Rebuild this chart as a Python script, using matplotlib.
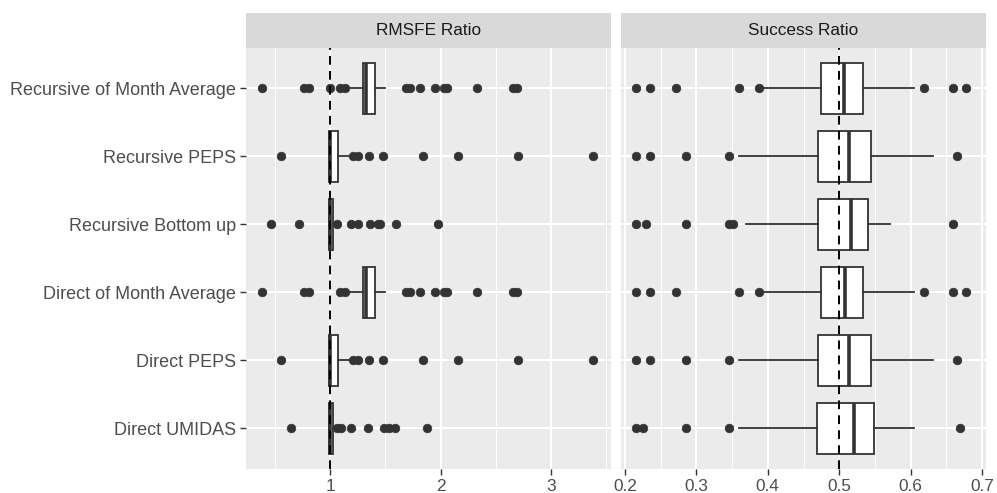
import matplotlib
matplotlib.use("Agg")
import matplotlib.pyplot as plt

plt.rcParams["font.family"] = ["Liberation Sans", "DejaVu Sans"]

# Forecasting methods, listed top to bottom
methods = [
    "Recursive of Month Average",
    "Recursive PEPS",
    "Recursive Bottom up",
    "Direct of Month Average",
    "Direct PEPS",
    "Direct UMIDAS",
]

# RMSFE ratio: whisker low, Q1, median, Q3, whisker high, outliers
rmsfe_whislo = [1.18, 0.99, 0.985, 1.18, 0.99, 0.985]
rmsfe_q1 = [1.30, 0.99, 0.99, 1.30, 0.99, 0.99]
rmsfe_med = [1.32, 1.00, 1.00, 1.32, 1.00, 1.00]
rmsfe_q3 = [1.41, 1.07, 1.025, 1.41, 1.07, 1.025]
rmsfe_whishi = [1.50, 1.19, 1.045, 1.50, 1.19, 1.05]
rmsfe_out = [
    [0.38, 0.76, 0.81, 1.00, 1.09, 1.13, 1.69, 1.72, 1.81, 1.95, 2.03, 2.06, 2.33, 2.66, 2.69],
    [0.55, 1.21, 1.25, 1.35, 1.48, 1.84, 2.16, 2.70, 3.38],
    [0.46, 0.72, 1.06, 1.19, 1.25, 1.36, 1.43, 1.455, 1.60, 1.98],
    [0.38, 0.76, 0.81, 1.09, 1.13, 1.69, 1.72, 1.81, 1.95, 2.03, 2.06, 2.33, 2.66, 2.69],
    [0.55, 1.21, 1.25, 1.35, 1.48, 1.84, 2.16, 2.70, 3.38],
    [0.64, 1.06, 1.10, 1.19, 1.34, 1.49, 1.53, 1.59, 1.88],
]

# Success ratio: whisker low, Q1, median, Q3, whisker high, outliers
succ_whislo = [0.392, 0.359, 0.370, 0.392, 0.359, 0.359]
succ_q1 = [0.475, 0.471, 0.471, 0.475, 0.471, 0.469]
succ_med = [0.507, 0.514, 0.517, 0.508, 0.514, 0.521]
succ_q3 = [0.533, 0.545, 0.540, 0.533, 0.545, 0.549]
succ_whishi = [0.605, 0.632, 0.571, 0.605, 0.632, 0.605]
succ_out = [
    [0.216, 0.235, 0.272, 0.359, 0.387, 0.619, 0.660, 0.678],
    [0.216, 0.235, 0.286, 0.346, 0.665],
    [0.216, 0.229, 0.286, 0.346, 0.351, 0.660],
    [0.216, 0.235, 0.272, 0.359, 0.387, 0.619, 0.660, 0.678],
    [0.216, 0.235, 0.286, 0.346, 0.665],
    [0.216, 0.225, 0.286, 0.346, 0.669],
]

panel_titles = ["RMSFE Ratio", "Success Ratio"]
reference_lines = [1.0, 0.5]

rmsfe_ticks = [1, 2, 3]
rmsfe_minor = [0.5, 1.5, 2.5, 3.5]
succ_ticks = [0.2, 0.3, 0.4, 0.5, 0.6, 0.7]
succ_minor = [0.25, 0.35, 0.45, 0.55, 0.65]


def make_stats(lo, q1, med, q3, hi, out):
    return [
        dict(whislo=a, q1=b, med=c, q3=d, whishi=e, fliers=f, label=m)
        for a, b, c, d, e, f, m in zip(lo, q1, med, q3, hi, out, methods)
    ]


panels = [
    dict(stats=make_stats(rmsfe_whislo, rmsfe_q1, rmsfe_med, rmsfe_q3, rmsfe_whishi, rmsfe_out),
         ticks=rmsfe_ticks, minor=rmsfe_minor,
         ticklabels=[str(t) for t in rmsfe_ticks]),
    dict(stats=make_stats(succ_whislo, succ_q1, succ_med, succ_q3, succ_whishi, succ_out),
         ticks=succ_ticks, minor=succ_minor,
         ticklabels=[f"{t:.1f}" for t in succ_ticks]),
]

W, H = 997, 493
fig = plt.figure(figsize=(W / 100, H / 100), dpi=100)

panel_x = [246, 621]
panel_w = 365
panel_top, panel_bot = 47.5, 469
strip_top = 13

dark = "#333333"
positions = list(range(len(methods), 0, -1))

for i, p in enumerate(panels):
    left = panel_x[i] / W
    ax = fig.add_axes([left, 1 - panel_bot / H, panel_w / W, (panel_bot - panel_top) / H])
    ax.set_facecolor("#EBEBEB")
    for s in ax.spines.values():
        s.set_visible(False)

    ax.bxp(
        p["stats"], positions=positions, vert=False, widths=0.75, patch_artist=True,
        showcaps=False,
        boxprops=dict(facecolor="white", edgecolor=dark, linewidth=1.3),
        whiskerprops=dict(color=dark, linewidth=1.3),
        medianprops=dict(color=dark, linewidth=2.6, solid_capstyle="butt"),
        flierprops=dict(marker="o", markersize=6.2, markerfacecolor=dark,
                        markeredgecolor=dark, markeredgewidth=0.5, linestyle="none"),
        zorder=3,
    )
    ax.axvline(reference_lines[i], color="black", linewidth=1.4,
               linestyle=(0, (4.5, 3.2)), zorder=5)

    ax.set_xticks(p["ticks"])
    ax.set_xticklabels(p["ticklabels"])
    ax.set_xticks(p["minor"], minor=True)
    ax.set_yticks(positions)
    ax.set_ylim(0.4, len(methods) + 0.6)

    ax.grid(True, which="major", color="white", linewidth=1.5, zorder=0)
    ax.grid(True, which="minor", axis="x", color="white", linewidth=0.75, zorder=0)
    ax.set_axisbelow(True)

    ax.tick_params(axis="x", which="major", length=4, width=1.0, color=dark,
                   labelsize=12.4, labelcolor="#4D4D4D", pad=3.5)
    ax.tick_params(axis="x", which="minor", length=0)
    if i == 0:
        ax.set_yticklabels(methods)
        ax.tick_params(axis="y", length=4, width=1.0, color=dark,
                       labelsize=13, labelcolor="#4D4D4D", pad=3)
        ax.set_xlim(0.236, 3.545)
    else:
        ax.set_yticklabels([])
        ax.tick_params(axis="y", length=0)
        ax.set_xlim(0.1944, 0.7056)

    sax = fig.add_axes([left, 1 - panel_top / H, panel_w / W, (panel_top - strip_top) / H])
    sax.set_facecolor("#D9D9D9")
    sax.set_xticks([])
    sax.set_yticks([])
    for s in sax.spines.values():
        s.set_visible(False)
    sax.text(0.5, 0.5, panel_titles[i], ha="center", va="center",
             fontsize=12.4, color="#1A1A1A", transform=sax.transAxes)

fig.savefig("out.png", dpi=100, facecolor="white")
